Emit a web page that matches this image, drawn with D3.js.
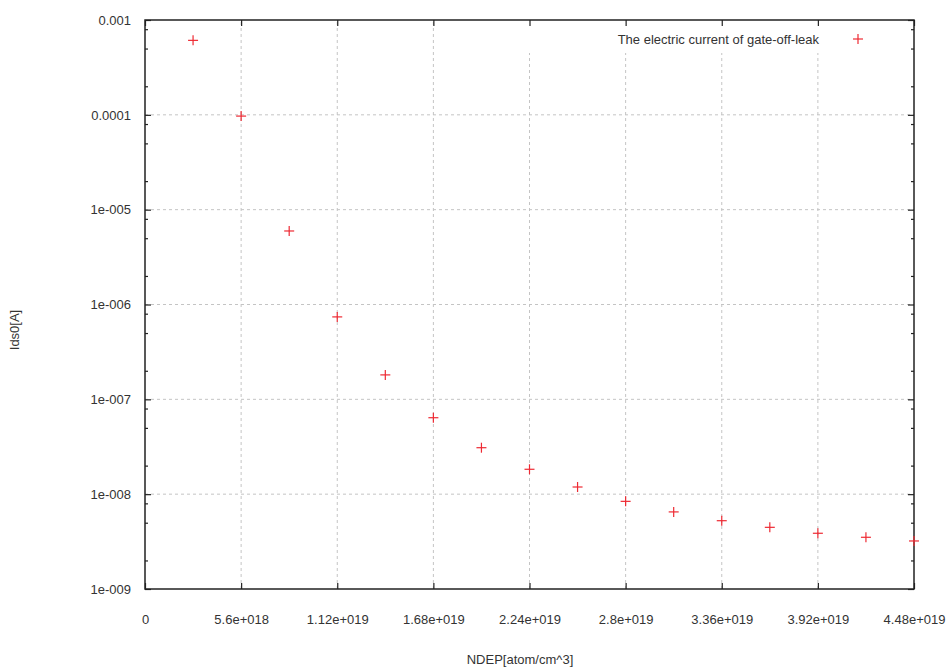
<!DOCTYPE html>
<html>
<head>
<meta charset="utf-8">
<script src="https://cdn.jsdelivr.net/npm/d3@7"></script>
<style>
  html, body { margin: 0; padding: 0; background: #fff; }
  svg { display: block; }
  text { font-family: "Liberation Sans", Arial, sans-serif; fill: #333; }
</style>
</head>
<body>
<svg id="chart" width="947" height="667"></svg>
<script>
// ---- data ----
const ndep = [2.8e18, 5.6e18, 8.4e18, 1.12e19, 1.4e19, 1.68e19, 1.96e19, 2.24e19,
              2.52e19, 2.8e19, 3.08e19, 3.36e19, 3.64e19, 3.92e19, 4.2e19, 4.48e19];
const ids0 = [6.1e-4, 9.7e-5, 5.96e-6, 7.4e-7, 1.81e-7, 6.4e-8, 3.09e-8, 1.83e-8,
              1.19e-8, 8.4e-9, 6.5e-9, 5.25e-9, 4.47e-9, 3.87e-9, 3.51e-9, 3.21e-9];
const xTickValues = [0, 5.6e18, 1.12e19, 1.68e19, 2.24e19, 2.8e19, 3.36e19, 3.92e19, 4.48e19];
const xTickLabels = ["0", "5.6e+018", "1.12e+019", "1.68e+019", "2.24e+019", "2.8e+019", "3.36e+019", "3.92e+019", "4.48e+019"];
const yTickValues = [1e-9, 1e-8, 1e-7, 1e-6, 1e-5, 1e-4, 1e-3];
const yTickLabels = ["1e-009", "1e-008", "1e-007", "1e-006", "1e-005", "0.0001", "0.001"];
const yMinorMultipliers = [2, 5, 8];
const seriesName = "The electric current of gate-off-leak";
const xTitle = "NDEP[atom/cm^3]";
const yTitle = "Ids0[A]";

// ---- layout ----
const L = 145, R = 914, T = 20, B = 589;
const FS = "13px";
const svg = d3.select("#chart");
const x = d3.scaleLinear().domain([0, 4.48e19]).range([L, R]);
const y = d3.scaleLog().domain([1e-9, 1e-3]).range([B, T]);

const gridColor = "#c4c4c4";
const keyBottom = 53, keyLeft = 485;

// grid
const grid = svg.append("g");
xTickValues.forEach((v, i) => {
  if (i === 0 || i === xTickValues.length - 1) return;
  const px = x(v);
  const top = px > keyLeft ? keyBottom : T;
  grid.append("line").attr("x1", px).attr("x2", px).attr("y1", B).attr("y2", top)
    .attr("stroke", gridColor).attr("stroke-width", 1).attr("stroke-dasharray", "3,3");
});
yTickValues.forEach((v, i) => {
  if (i === 0 || i === yTickValues.length - 1) return;
  const py = y(v);
  grid.append("line").attr("x1", L).attr("x2", R).attr("y1", py).attr("y2", py)
    .attr("stroke", gridColor).attr("stroke-width", 1).attr("stroke-dasharray", "3,3");
});

// minor y values
const yMinor = [];
yTickValues.slice(0, -1).forEach(d => yMinorMultipliers.forEach(m => yMinor.push(d * m)));

// axes (ticks inward, mirrored)
const tickStroke = "#222";
const xb = d3.axisBottom(x).tickValues(xTickValues).tickSize(-6).tickFormat((d, i) => xTickLabels[i]).tickPadding(26);
const gb = svg.append("g").attr("transform", `translate(0,${B})`).call(xb);
const xt = d3.axisTop(x).tickValues(xTickValues).tickSize(-6).tickFormat("");
const gt = svg.append("g").attr("transform", `translate(0,${T})`).call(xt);
const yl = d3.axisLeft(y).tickValues(yTickValues).tickSize(-6).tickFormat((d, i) => yTickLabels[i]).tickPadding(14);
const gl = svg.append("g").attr("transform", `translate(${L},0)`).call(yl);
const ylm = d3.axisLeft(y).tickValues(yMinor).tickSize(-3).tickFormat("");
const glm = svg.append("g").attr("transform", `translate(${L},0)`).call(ylm);
const yr = d3.axisRight(y).tickValues(yTickValues).tickSize(-6).tickFormat("");
const gr = svg.append("g").attr("transform", `translate(${R},0)`).call(yr);
const yrm = d3.axisRight(y).tickValues(yMinor).tickSize(-3).tickFormat("");
const grm = svg.append("g").attr("transform", `translate(${R},0)`).call(yrm);

[gb, gt, gl, glm, gr, grm].forEach(g => {
  g.select(".domain").remove();
  g.selectAll(".tick line").attr("stroke", tickStroke).attr("stroke-width", 1.2);
  g.selectAll(".tick text").style("font-size", FS).attr("fill", "#333")
    .style("font-family", '"Liberation Sans", Arial, sans-serif');
});

// frame
svg.append("rect").attr("x", L).attr("y", T).attr("width", R - L).attr("height", B - T)
  .attr("fill", "none").attr("stroke", "#222").attr("stroke-width", 1.5);

// points
const pointColor = "#ee2a33";
const cross = (g, cx, cy) => {
  g.append("line").attr("x1", cx - 5).attr("x2", cx + 5).attr("y1", cy).attr("y2", cy)
    .attr("stroke", pointColor).attr("stroke-width", 1.2);
  g.append("line").attr("x1", cx).attr("x2", cx).attr("y1", cy - 5).attr("y2", cy + 5)
    .attr("stroke", pointColor).attr("stroke-width", 1.2);
};
const pts = svg.append("g");
ndep.forEach((v, i) => cross(pts, x(v), y(ids0[i])));

// legend
svg.append("text").attr("x", 819).attr("y", 44).attr("text-anchor", "end")
  .style("font-size", FS).text(seriesName);
cross(svg.append("g"), 858, 39);

// axis titles
svg.append("text").attr("x", 520).attr("y", 664).attr("text-anchor", "middle")
  .style("font-size", FS).text(xTitle);
svg.append("text").attr("transform", "translate(19,330) rotate(-90)").attr("text-anchor", "middle")
  .style("font-size", FS).text(yTitle);
</script>
</body>
</html>
